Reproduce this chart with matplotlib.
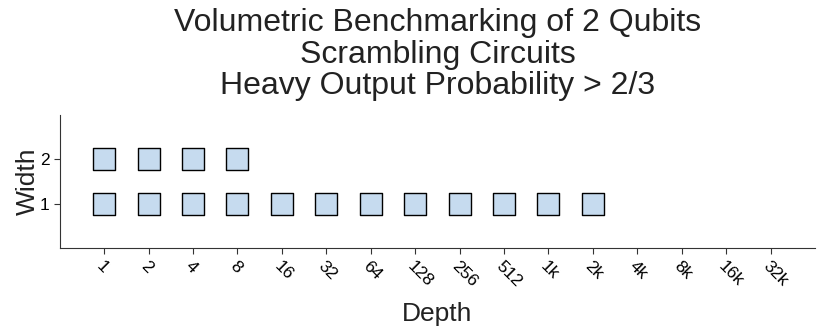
import matplotlib
matplotlib.use("Agg")
import matplotlib.pyplot as plt
import numpy as np

depth_labels = ["1", "2", "4", "8", "16", "32", "64", "128", "256", "512",
                "1k", "2k", "4k", "8k", "16k", "32k"]
width_labels = ["1", "2"]
# number of depths passed for each width
passed_w1 = 12
passed_w2 = 4

plt.rcParams['font.family'] = ['Liberation Sans', 'DejaVu Sans']

fig, ax = plt.subplots(figsize=(8.3, 3.34), dpi=100)

for w, n in [(1, passed_w1), (2, passed_w2)]:
    xs = np.arange(n)
    ax.scatter(xs, np.full(n, w), marker='s', s=16.5 ** 2,
               facecolor='#c6dbef', edgecolor='black', linewidth=1.0, zorder=3)

ax.set_xlim(-1, 16)
ax.set_ylim(0, 3)
ax.set_xticks(np.arange(len(depth_labels)))
ax.set_xticklabels(depth_labels, rotation=-45, ha='left', rotation_mode='anchor', fontsize=12.5)
ax.set_yticks([1, 2])
ax.set_yticklabels(width_labels, fontsize=12.5)
ax.tick_params(direction='out', length=4, color='#333333')
ax.spines['top'].set_visible(False)
ax.spines['right'].set_visible(False)
for s in ['left', 'bottom']:
    ax.spines[s].set_color('#333333')

ax.set_xlabel("Depth", fontsize=19, labelpad=9, color='#222222')
ax.set_ylabel("Width", fontsize=19, color='#222222', labelpad=0)
ax.set_title("Volumetric Benchmarking of 2 Qubits\nScrambling Circuits\nHeavy Output Probability > 2/3",
             fontsize=23, color='#222222', linespacing=1.07, pad=15)

fig.subplots_adjust(left=0.072, right=0.982, top=0.655, bottom=0.258)
fig.savefig("out.png", dpi=100)
